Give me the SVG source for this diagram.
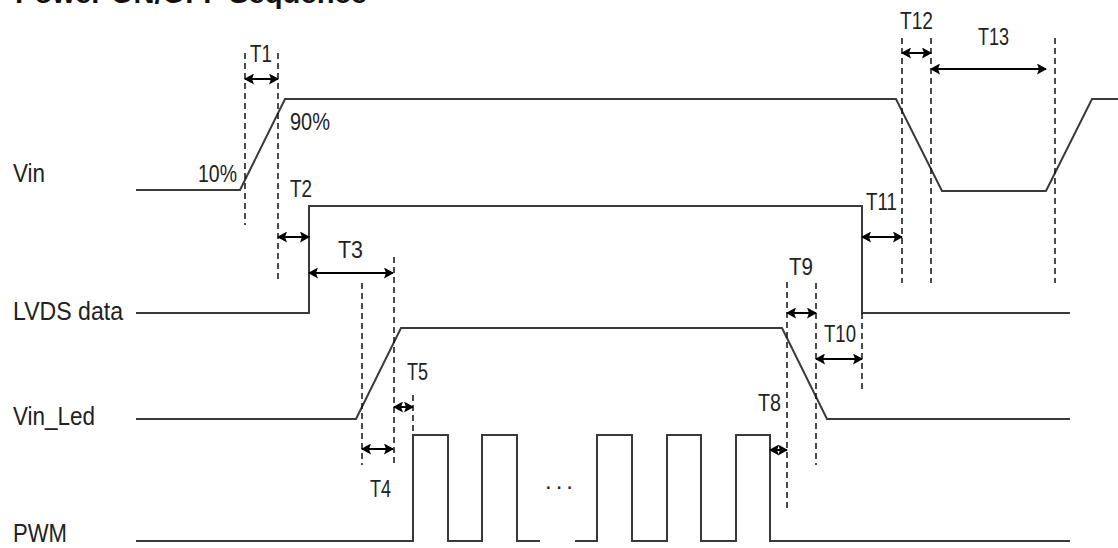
<svg xmlns="http://www.w3.org/2000/svg" width="1118" height="548" viewBox="0 0 1118 548">
<style>
.wave{fill:none;stroke:#3a3a3a;stroke-width:2;stroke-linejoin:miter}
.dash{fill:none;stroke:#111;stroke-width:1.5;stroke-dasharray:6,4}
.dim{fill:none;stroke:#000;stroke-width:2;marker-start:url(#ah);marker-end:url(#ah)}
.sig{font-family:"Liberation Sans",Arial,sans-serif;font-size:25px;fill:#222}
.lbl{font-family:"Liberation Sans",Arial,sans-serif;font-size:24px;fill:#222}
.title{font-family:"Liberation Sans",Arial,sans-serif;font-size:28px;font-weight:bold;fill:#111}
</style>
<defs>
<marker id="ah" markerUnits="userSpaceOnUse" markerWidth="10" markerHeight="11" refX="9" refY="5.5" orient="auto-start-reverse">
<path d="M0,0 L10,5.5 L0,11 L2,5.5 Z" fill="#000"/>
</marker>
</defs>
<rect width="1118" height="548" fill="#fff"/>
<text class="title" x="15" y="2.5" textLength="352" lengthAdjust="spacingAndGlyphs">Power ON/OFF Sequence</text>

<g id="vin">
<text class="sig" x="13" y="182" textLength="32" lengthAdjust="spacingAndGlyphs">Vin</text>
<polyline class="wave" points="136,190 240,190 285,99 896,99 942,191 1046,191 1092,99 1118,99"/>
<text class="lbl" x="198" y="182" textLength="39" lengthAdjust="spacingAndGlyphs">10%</text>
<text class="lbl" x="290" y="130" textLength="40" lengthAdjust="spacingAndGlyphs">90%</text>
</g>

<g id="lvds">
<text class="sig" x="13" y="320" textLength="110" lengthAdjust="spacingAndGlyphs">LVDS data</text>
<polyline class="wave" points="136,313 309,313 309,206 862,206 862,313 1070,313"/>
</g>

<g id="vinled">
<text class="sig" x="13" y="425" textLength="82" lengthAdjust="spacingAndGlyphs">Vin_Led</text>
<polyline class="wave" points="136,419 356,419 401,328 782,328 827,419 1070,419"/>
</g>

<g id="pwm">
<text class="sig" x="13" y="542" textLength="54" lengthAdjust="spacingAndGlyphs">PWM</text>
<polyline class="wave" points="136,541 413,541 413,435 448,435 448,541 482,541 482,435 517,435 517,541 540,541"/>
<polyline class="wave" points="575,541 597,541 597,435 632,435 632,541 667,541 667,435 701,435 701,541 736,541 736,435 770,435 770,541 1070,541"/>
<text class="lbl" x="545" y="489" letter-spacing="4">...</text>
</g>

<g id="connectors">
<line class="dash" x1="245" y1="53" x2="245" y2="225"/>
<line class="dash" x1="278" y1="53" x2="278" y2="283"/>
<line class="dash" x1="362" y1="283" x2="362" y2="465"/>
<line class="dash" x1="394" y1="257" x2="394" y2="465"/>
<line class="dash" x1="413" y1="395" x2="413" y2="435"/>
<line class="dash" x1="787" y1="282" x2="787" y2="512"/>
<line class="dash" x1="816" y1="283" x2="816" y2="465"/>
<line class="dash" x1="862" y1="313" x2="862" y2="390"/>
<line class="dash" x1="902" y1="38" x2="902" y2="283"/>
<line class="dash" x1="931" y1="38" x2="931" y2="283"/>
<line class="dash" x1="1055" y1="38" x2="1055" y2="283"/>

<line class="dim" x1="245" y1="79" x2="278" y2="79"/>
<line class="dim" x1="278" y1="237" x2="309" y2="237"/>
<line class="dim" x1="309" y1="273" x2="393" y2="273"/>
<line class="dim" x1="362" y1="449" x2="393" y2="449"/>
<line class="dim" x1="394" y1="407" x2="413" y2="407"/>
<line class="dim" x1="770" y1="450" x2="787" y2="450"/>
<line class="dim" x1="787" y1="313" x2="816" y2="313"/>
<line class="dim" x1="816" y1="359" x2="862" y2="359"/>
<line class="dim" x1="862" y1="237" x2="902" y2="237"/>
<line class="dim" x1="902" y1="53" x2="931" y2="53"/>
<line class="dim" x1="931" y1="69" x2="1046" y2="69"/>

<text class="lbl" x="250" y="62" textLength="22" lengthAdjust="spacingAndGlyphs">T1</text>
<text class="lbl" x="290" y="197" textLength="22" lengthAdjust="spacingAndGlyphs">T2</text>
<text class="lbl" x="338" y="258" textLength="25" lengthAdjust="spacingAndGlyphs">T3</text>
<text class="lbl" x="370" y="497" textLength="21" lengthAdjust="spacingAndGlyphs">T4</text>
<text class="lbl" x="407" y="380" textLength="21" lengthAdjust="spacingAndGlyphs">T5</text>
<text class="lbl" x="758" y="411" textLength="23" lengthAdjust="spacingAndGlyphs">T8</text>
<text class="lbl" x="789" y="275" textLength="24" lengthAdjust="spacingAndGlyphs">T9</text>
<text class="lbl" x="824" y="342" textLength="32" lengthAdjust="spacingAndGlyphs">T10</text>
<text class="lbl" x="866" y="210" textLength="31" lengthAdjust="spacingAndGlyphs">T11</text>
<text class="lbl" x="900" y="29" textLength="33" lengthAdjust="spacingAndGlyphs">T12</text>
<text class="lbl" x="978" y="45" textLength="31" lengthAdjust="spacingAndGlyphs">T13</text>
</g>
</svg>
